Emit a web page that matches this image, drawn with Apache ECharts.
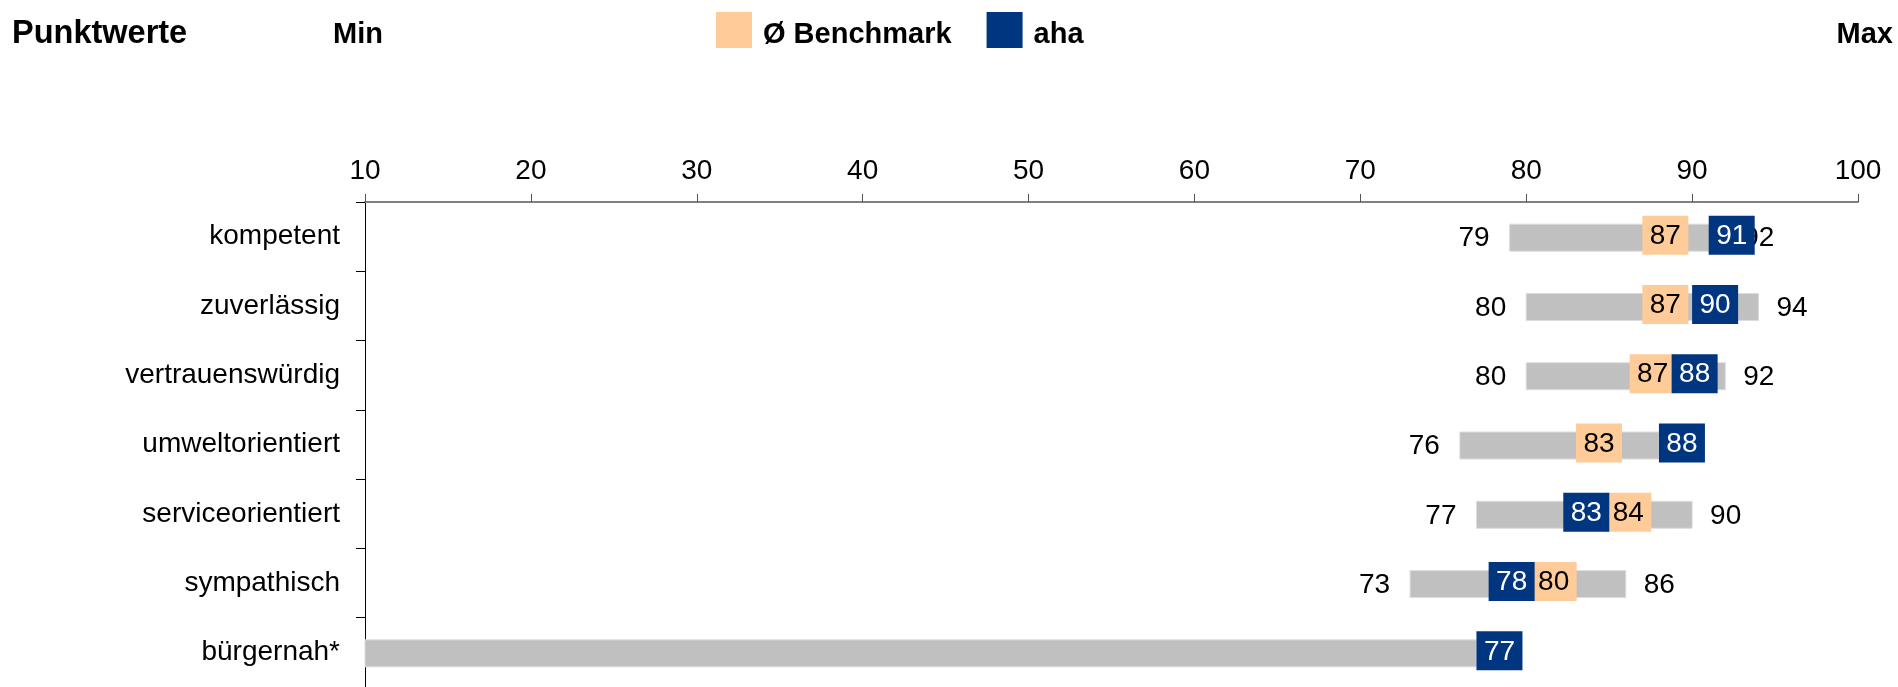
<!DOCTYPE html>
<html lang="de">
<head>
<meta charset="utf-8">
<title>Punktwerte – Image-Profil</title>
<script src="https://cdn.jsdelivr.net/npm/echarts@6/dist/echarts.min.js"></script>
<style>
  html, body { margin: 0; padding: 0; background: #ffffff; }
  #chart { width: 1898px; height: 687px; }
</style>
</head>
<body>
<div id="chart"></div>
<script>
// Attribute, top to bottom
const categories = ['kompetent', 'zuverlässig', 'vertrauenswürdig', 'umweltorientiert', 'serviceorientiert', 'sympathisch', 'bürgernah*'];
// Range of scores across all providers (min / max); bürgernah has no min given
const minVals = [79, 80, 80, 76, 77, 73, null];
const maxVals = [92, 94, 92, 88, 90, 86, 77];
// Average benchmark and the company's own score
const benchmarkVals = [87, 87, 87, 83, 84, 80, null];
const ahaVals = [91, 90, 88, 88, 83, 78, 77];
// Value axis
const X_MIN = 10;
const X_MAX = 100;
const X_STEP = 10;

const FONT = '"Liberation Sans", Arial, Helvetica, sans-serif';
const GREY = '#C0C0C0';
const ORANGE = '#FFCC99';
const BLUE = '#003580';
const BOX_W = 46;
const BOX_H = 39;
const BAR_H = 27;
const VALUE_FONT = '28px ' + FONT;

const chart = echarts.init(document.getElementById('chart'), null, { renderer: 'canvas' });

// Grey min–max span with its end values written beside it.
// The max value is left out where the company's own box already states it.
function rangeItem(params, api) {
  const i = params.dataIndex;
  const lo = minVals[i] == null ? X_MIN : minVals[i];
  const hi = maxVals[i];
  const p0 = api.coord([lo, i]);
  const p1 = api.coord([hi, i]);
  const children = [{
    type: 'rect',
    shape: { x: p0[0], y: p0[1] - BAR_H / 2 + 1, width: p1[0] - p0[0], height: BAR_H },
    style: { fill: GREY, stroke: '#DCDCDC', lineWidth: 1 }
  }];
  if (minVals[i] != null) {
    children.push({
      type: 'text', x: p0[0] - 20, y: p0[1] + 2,
      style: { text: String(minVals[i]), align: 'right', verticalAlign: 'middle', font: VALUE_FONT, fill: '#000' }
    });
  }
  if (hi !== ahaVals[i]) {
    children.push({
      type: 'text', x: p1[0] + 18, y: p1[1] + 2,
      style: { text: String(hi), align: 'left', verticalAlign: 'middle', font: VALUE_FONT, fill: '#000' }
    });
  }
  return { type: 'group', children: children };
}

// Left edges of the two value boxes in a row; boxes that would cover each
// other are pushed apart around their common midpoint so both stay readable.
function boxLefts(i, api) {
  const b = benchmarkVals[i];
  const a = ahaVals[i];
  let xb = b == null ? null : api.coord([b, i])[0];
  let xa = a == null ? null : api.coord([a, i])[0];
  if (xb != null && xa != null) {
    const minGap = BOX_W - 4;
    if (Math.abs(xa - xb) < minGap) {
      const mid = (xa + xb) / 2;
      const sign = a >= b ? 1 : -1;
      xa = mid + sign * minGap / 2;
      xb = mid - sign * minGap / 2;
    }
  }
  return { bench: xb, aha: xa };
}

function boxItem(values, key, textColor) {
  return function (params, api) {
    const i = params.dataIndex;
    const v = values[i];
    if (v == null) return null;
    const x = boxLefts(i, api)[key];
    const cy = api.coord([v, i])[1] - 1.5;
    return {
      type: 'group',
      children: [{
        type: 'rect',
        shape: { x: x, y: cy - BOX_H / 2, width: BOX_W, height: BOX_H },
        style: { fill: api.visual('color') }
      }, {
        type: 'text', x: x + BOX_W / 2, y: cy + 1,
        style: { text: String(v), align: 'center', verticalAlign: 'middle', font: VALUE_FONT, fill: textColor }
      }]
    };
  };
}

const option = {
  backgroundColor: '#ffffff',
  animation: false,
  textStyle: { fontFamily: FONT },
  grid: { left: 365, right: 40, top: 202, height: 490, containLabel: false },
  legend: {
    data: ['Ø Benchmark', 'aha'],
    left: 716, top: 12,
    padding: 0,
    icon: 'rect',
    itemWidth: 36, itemHeight: 36,
    itemGap: 35,
    selectedMode: false,
    formatter: name => '{t|' + name + '}',
    textStyle: {
      fontSize: 29, fontWeight: 'bold', color: '#000', fontFamily: FONT,
      rich: {
        t: { fontSize: 29, fontWeight: 'bold', color: '#000', fontFamily: FONT, padding: [10, 0, 0, 6] }
      }
    }
  },
  graphic: [
    { type: 'text', left: 12, top: 18, style: { text: 'Punktwerte', font: 'bold 32.5px ' + FONT, fill: '#000' } },
    { type: 'text', left: 333, top: 20, style: { text: 'Min', font: 'bold 29px ' + FONT, fill: '#000' } },
    { type: 'text', right: 5, top: 20, style: { text: 'Max', font: 'bold 29px ' + FONT, fill: '#000' } }
  ],
  xAxis: {
    type: 'value',
    position: 'top',
    min: X_MIN, max: X_MAX, interval: X_STEP,
    splitLine: { show: false },
    axisLine: { show: true, lineStyle: { color: '#808080', width: 2 } },
    axisTick: { show: true, length: 8, lineStyle: { color: '#555', width: 1 } },
    axisLabel: { fontSize: 28, color: '#000', margin: 17, fontFamily: FONT }
  },
  yAxis: {
    type: 'category',
    inverse: true,
    data: categories,
    axisLine: { show: true, lineStyle: { color: '#000', width: 1 } },
    axisTick: { show: true, length: 9, lineStyle: { color: '#000', width: 1 } },
    axisLabel: { fontSize: 28, color: '#000', margin: 25, fontFamily: FONT }
  },
  series: [
    {
      name: 'Spanne',
      type: 'custom',
      renderItem: rangeItem,
      data: categories.map((c, i) => [maxVals[i], i]),
      encode: { x: 0, y: 1 },
      itemStyle: { color: GREY },
      z: 2
    },
    {
      name: 'Ø Benchmark',
      type: 'custom',
      renderItem: boxItem(benchmarkVals, 'bench', '#000'),
      data: categories.map((c, i) => [benchmarkVals[i] == null ? X_MIN : benchmarkVals[i], i]),
      encode: { x: 0, y: 1 },
      itemStyle: { color: ORANGE },
      z: 3
    },
    {
      name: 'aha',
      type: 'custom',
      renderItem: boxItem(ahaVals, 'aha', '#fff'),
      data: categories.map((c, i) => [ahaVals[i], i]),
      encode: { x: 0, y: 1 },
      itemStyle: { color: BLUE },
      z: 4
    }
  ]
};

chart.setOption(option);
</script>
</body>
</html>
